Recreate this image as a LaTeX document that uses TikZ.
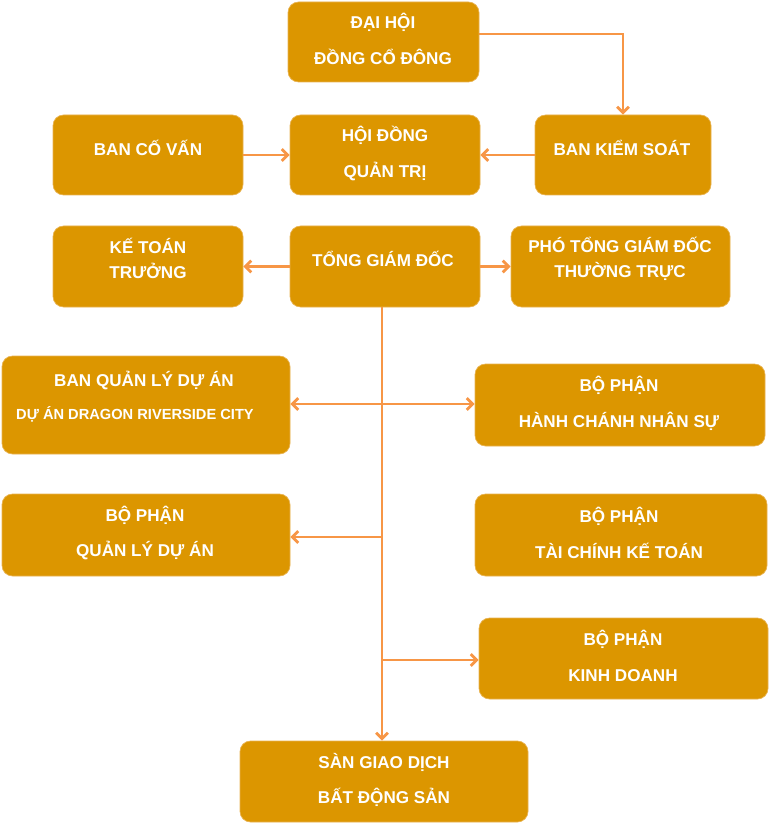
\documentclass[tikz,border=0pt]{standalone}
\usepackage{fontspec}
\setmainfont{Liberation Sans}
\usetikzlibrary{arrows.meta}
\definecolor{boxfill}{RGB}{220,150,0}
\definecolor{boxline}{RGB}{232,178,80}
\definecolor{arrowc}{RGB}{247,150,70}
\tikzset{
  box/.style={draw=boxline, line width=0.6pt, fill=boxfill, rounded corners=9pt, inner sep=0pt},
  txt/.style={text=white, align=center, inner sep=0pt, font=\bfseries\fontsize{14.6}{30.5}\selectfont},
  txttight/.style={txt, font=\bfseries\fontsize{14.6}{21.3}\selectfont},
  arr/.style={draw=arrowc, line width=2.4pt, -{Straight Barb[length=5pt,width=10pt]}}
}
\begin{document}
\begin{tikzpicture}[x=0.03cm, y=-0.03cm]
  \useasboundingbox (0,0) rectangle (771,824);
  % boxes
  \node[box, minimum width=191*0.03cm, minimum height=80*0.03cm] (dhcd) at (383.5,42) {};
  \node[box, minimum width=190*0.03cm, minimum height=80*0.03cm] (bcv) at (148,155) {};
  \node[box, minimum width=190*0.03cm, minimum height=80*0.03cm] (hdqt) at (385,155) {};
  \node[box, minimum width=176*0.03cm, minimum height=80*0.03cm] (bks) at (623,155) {};
  \node[box, minimum width=190*0.03cm, minimum height=81*0.03cm] (ktt) at (148,266.5) {};
  \node[box, minimum width=190*0.03cm, minimum height=81*0.03cm] (tgd) at (385,266.5) {};
  \node[box, minimum width=219*0.03cm, minimum height=81*0.03cm] (ptgd) at (620.5,266.5) {};
  \node[box, minimum width=288*0.03cm, minimum height=98*0.03cm] (bqlda) at (146,405) {};
  \node[box, minimum width=290*0.03cm, minimum height=82*0.03cm] (hcns) at (620,405) {};
  \node[box, minimum width=288*0.03cm, minimum height=82*0.03cm] (bpqlda) at (146,535) {};
  \node[box, minimum width=292*0.03cm, minimum height=82*0.03cm] (tckt) at (621,535) {};
  \node[box, minimum width=289*0.03cm, minimum height=81*0.03cm] (kd) at (623.5,658.5) {};
  \node[box, minimum width=288*0.03cm, minimum height=81*0.03cm] (sgd) at (384,781.5) {};
  % texts
  \node[txt] (dhcd-t) at (383,39) {ĐẠI HỘI\\ĐỒNG CỔ ĐÔNG};
  \node[txt] (bcv-t) at (148,148) {BAN CỐ VẤN};
  \node[txt] (hdqt-t) at (385,153.5) {HỘI ĐỒNG\\QUẢN TRỊ};
  \node[txt] (bks-t) at (622,148) {BAN KIỂM SOÁT};
  \node[txttight] (ktt-t) at (148,258.5) {KẾ TOÁN\\TRƯỞNG};
  \node[txt] (tgd-t) at (383,259) {TỔNG GIÁM ĐỐC};
  \node[txttight] (ptgd-t) at (620,258.5) {PHÓ TỔNG GIÁM ĐỐC\\THƯỜNG TRỰC};
  \node[txt] (bqlda-t1) at (144,381) {BAN QUẢN LÝ DỰ ÁN};
  \node[txt, font=\bfseries\fontsize{12.5}{15}\selectfont] (bqlda-t2) at (135,414) {DỰ ÁN DRAGON RIVERSIDE CITY};
  \node[txt] (hcns-t) at (619,403) {BỘ PHẬN\\HÀNH CHÁNH NHÂN SỰ};
  \node[txt] (bpqlda-t) at (145,533) {BỘ PHẬN\\QUẢN LÝ DỰ ÁN};
  \node[txt] (tckt-t) at (619,533) {BỘ PHẬN\\TÀI CHÍNH KẾ TOÁN};
  \node[txt] (kd-t) at (623,656) {BỘ PHẬN\\KINH DOANH};
  \node[txt] (sgd-t) at (384,780) {SÀN GIAO DỊCH\\BẤT ĐỘNG SẢN};
  % connectors
  \coordinate (k1) at (624,34);
  \coordinate (j1) at (382,404);
  \coordinate (j2) at (382,537);
  \coordinate (j3) at (382,660);
  \draw[arr] (dhcd.east |- k1) -| (bks.north);
  \draw[arr] (bcv.east) -- (hdqt.west);
  \draw[arr] (bks.west) -- (hdqt.east);
  \draw[arr] (tgd.west) -- (ktt.east);
  \draw[arr] (tgd.east) -- (ptgd.west);
  \draw[arr] (tgd.south -| j1) -- (sgd.north -| j1);
  \draw[arr] (j1) -- (bqlda.east |- j1);
  \draw[arr] (j1) -- (hcns.west |- j1);
  \draw[arr] (j2) -- (bpqlda.east |- j2);
  \draw[arr] (j3) -- (kd.west |- j3);
\end{tikzpicture}
\end{document}
